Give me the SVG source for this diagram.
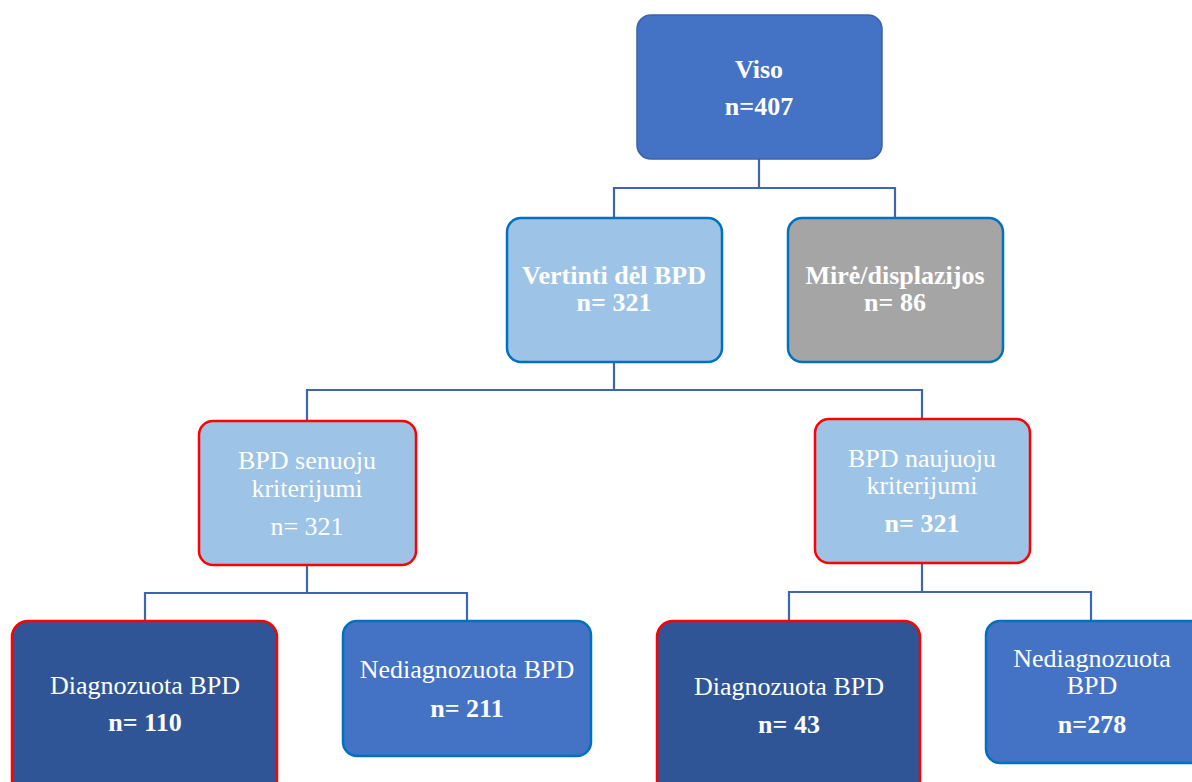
<svg xmlns="http://www.w3.org/2000/svg" width="1192" height="782" viewBox="0 0 1192 782">
<style>
.t{font-family:"Liberation Serif","Times New Roman",serif;font-size:26px;fill:#FFFFFF;text-anchor:middle}
.b{font-weight:bold}
.conn{fill:none;stroke:#3F65AE;stroke-width:2.2}
.top{fill:#4472C4;stroke:#3A62AC;stroke-width:1.5}
.lb{fill:#9DC3E6;stroke:#0070C0;stroke-width:2.5}
.gr{fill:#A5A5A5;stroke:#0070C0;stroke-width:2.5}
.lbr{fill:#9DC3E6;stroke:#FF0000;stroke-width:2.5}
.dk{fill:#2F5597;stroke:#FF0000;stroke-width:2.5}
.md{fill:#4472C4;stroke:#0070C0;stroke-width:2.5}
</style>
<g id="connectors">
<polyline class="conn" points="759,159 759,188 614,188 614,217"/>
<polyline class="conn" points="759,188 895,188 895,217"/>
<polyline class="conn" points="614,362 614,390 307,390 307,421"/>
<polyline class="conn" points="614,390 922,390 922,418"/>
<polyline class="conn" points="307,565 307,593 145,593 145,620"/>
<polyline class="conn" points="307,593 467,593 467,620"/>
<polyline class="conn" points="922,563 922,592 789,592 789,620"/>
<polyline class="conn" points="922,592 1091,592 1091,620"/>
</g>
<g id="viso">
<rect class="top" x="637" y="15" width="245" height="144" rx="14"/>
<text class="t b" x="759" y="78">Viso</text>
<text class="t b" x="759" y="115">n=407</text>
</g>
<g id="vertinti">
<rect class="lb" x="507" y="218" width="215" height="144" rx="14"/>
<text class="t b" x="614" y="284">Vertinti dėl BPD</text>
<text class="t b" x="614" y="311">n= 321</text>
</g>
<g id="mire">
<rect class="gr" x="788" y="218" width="215" height="144" rx="14"/>
<text class="t b" x="895" y="284">Mirė/displazijos</text>
<text class="t b" x="895" y="311">n= 86</text>
</g>
<g id="senuoju">
<rect class="lbr" x="199" y="421" width="217" height="144" rx="14"/>
<text class="t" x="307" y="469">BPD senuoju</text>
<text class="t" x="307" y="497">kriterijumi</text>
<text class="t" x="307" y="535">n= 321</text>
</g>
<g id="naujuoju">
<rect class="lbr" x="815" y="419" width="215" height="144" rx="14"/>
<text class="t" x="922" y="467">BPD naujuoju</text>
<text class="t" x="922" y="494">kriterijumi</text>
<text class="t b" x="922" y="532">n= 321</text>
</g>
<g id="diag-old">
<rect class="dk" x="12" y="621" width="265" height="175" rx="16"/>
<text class="t" x="145" y="694">Diagnozuota BPD</text>
<text class="t b" x="145" y="731">n= 110</text>
</g>
<g id="nediag-old">
<rect class="md" x="343" y="621" width="248" height="135" rx="14"/>
<text class="t" x="467" y="678">Nediagnozuota BPD</text>
<text class="t b" x="467" y="717">n= 211</text>
</g>
<g id="diag-new">
<rect class="dk" x="657" y="621" width="263" height="175" rx="16"/>
<text class="t" x="789" y="695">Diagnozuota BPD</text>
<text class="t b" x="789" y="733">n= 43</text>
</g>
<g id="nediag-new">
<rect class="md" x="986" y="621" width="218" height="142" rx="14"/>
<text class="t" x="1092" y="667">Nediagnozuota</text>
<text class="t" x="1092" y="694">BPD</text>
<text class="t b" x="1092" y="733">n=278</text>
</g>
</svg>
